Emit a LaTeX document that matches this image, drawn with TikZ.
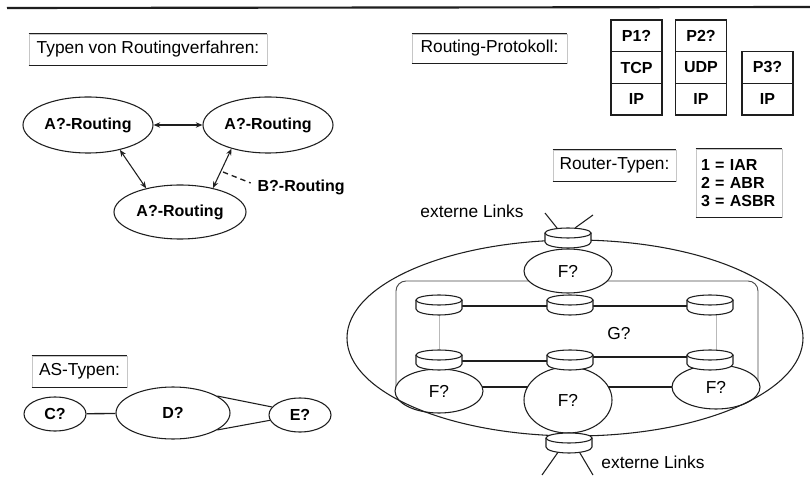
\documentclass[tikz,border=0pt]{standalone}
\usepackage{fontspec}
\setmainfont{Liberation Sans}
\usetikzlibrary{shapes.geometric,arrows.meta,calc}
\pgfdeclarelayer{paper}
\pgfdeclarelayer{under}
\pgfsetlayers{paper,under,main}
\newcommand\lblfont{\fontsize{12}{14}\selectfont\bfseries}
\newcommand\ttlfont{\fontsize{13}{15}\selectfont}
\definecolor{inkc}{HTML}{1E1E1E}
\tikzset{
  conn/.style={draw=inkc, line width=0.8pt},
  oval/.style={ellipse, draw=inkc, line width=0.8pt, fill=white, inner sep=0pt, font=\lblfont},
  fnode/.style={ellipse, draw=inkc, line width=0.8pt, fill=white, inner sep=0pt, font=\ttlfont},
  disc/.style={ellipse, draw=inkc, line width=0.8pt, fill=white, inner sep=0pt, minimum width=34.5pt, minimum height=7.5pt},
  titlebox/.style={draw=gray!45, line width=0.5pt, inner sep=0pt, font=\ttlfont},
  cell/.style={draw=inkc, line width=0.8pt, minimum width=38.25pt, minimum height=23.75pt, inner sep=0pt, font=\lblfont},
  dbl/.style={conn, <->, >={Stealth[length=5pt,width=4pt]}},
  edgeline/.style={draw=inkc, line width=0.9pt},
  faint/.style={draw=gray!55, line width=0.4pt},
  router/.pic={
    \path[conn, fill=white] (-23,0) -- (-23,9) arc[start angle=180, end angle=0, x radius=23, y radius=6] -- (23,0);
    \node[disc] (-top) at (0,0) {};
  }
}
\begin{document}
\begin{tikzpicture}[x=0.75pt,y=-0.75pt]
\begin{pgfonlayer}{paper}
  \fill[white] (0,0) rectangle (810,488);
\end{pgfonlayer}
\useasboundingbox (0,0) rectangle (810,488);
\draw[inkc, line width=1.6pt] (7,8) -- (810,7);

% title boxes
\node[titlebox, minimum width=178.5pt, minimum height=23.25pt] (t1) at (148,49.5) {Typen von Routingverfahren:};
\node[titlebox, minimum width=116.25pt, minimum height=21.75pt] (t2) at (489.5,48.5) {Routing-Protokoll:};
\node[titlebox, minimum width=92.25pt, minimum height=23.25pt] (t3) at (614.5,165.5) {Router-Typen:};
\node[titlebox, minimum width=71.25pt, minimum height=23.25pt] (t4) at (79.5,371.5) {AS-Typen:};
\node[titlebox, text width=57pt, inner xsep=3.75pt, minimum height=51pt, align=left, font={\lblfont\fontsize{12}{13.2}\selectfont}] (leg) at (739,183) {1 = IAR\\2 = ABR\\3 = ASBR};
\foreach \n in {t1,t2,t3,t4,leg}
  \draw[edgeline] (\n.north west) -- (\n.north east) (\n.south west) -- (\n.south east);

% protocol stacks
\node[cell] (p1) at (636.5,35.83) {P1?};
\node[cell] (tcp) at (636.5,67.5) {TCP};
\node[cell] (ip1) at (636.5,99.17) {IP};
\node[cell] (p2) at (701,35.83) {P2?};
\node[cell] (udp) at (701,67.5) {UDP};
\node[cell] (ip2) at (701,99.17) {IP};
\node[cell] (p3) at (767.5,67.5) {P3?};
\node[cell] (ip3) at (767.5,99.17) {IP};

% routing types
\node[oval, minimum width=97.5pt, minimum height=42pt] (a1) at (88,125) {A?-Routing};
\node[oval, minimum width=97.5pt, minimum height=42pt] (a2) at (268,125) {A?-Routing};
\node[oval, minimum width=99pt, minimum height=40.5pt] (a3) at (180,212) {A?-Routing};
\draw[dbl] (a1) -- (a2);
\draw[dbl] (a1.-38) -- (a3.145);
\draw[dbl] (a2.213) -- (a3.36);
\coordinate (bd) at (223,172);
\node[font=\lblfont, inner sep=1pt, anchor=west] (b) at (256,187) {B?-Routing};
\draw[conn, line width=1pt, dash pattern=on 4pt off 3pt] (bd) -- ([xshift=-4pt,yshift=3pt]b.west);

% AS types
\node[oval, minimum width=46.5pt, minimum height=25.5pt] (c) at (55,414) {C?};
\node[oval, minimum width=85.5pt, minimum height=39pt] (d) at (173,413) {D?};
\node[oval, minimum width=46.5pt, minimum height=25.5pt] (e) at (300,415) {E?};
\draw[conn, line width=1pt] (c) -- (d);
\draw[conn] (d.21) -- (e.164);
\draw[conn] (d.-21) -- (e.-170);

% area structure
\node[fnode, minimum width=66pt, minimum height=33pt] (ft) at (568,271) {F?};
\node[fnode, minimum width=66pt, minimum height=33pt] (fl) at (439,391) {F?};
\node[fnode, minimum width=66pt, minimum height=49.5pt] (fm) at (568,400) {F?};
\node[fnode, minimum width=66pt, minimum height=33pt] (fr) at (716,387) {F?};
\node[ellipse, draw=inkc, line width=0.8pt, minimum width=342pt, minimum height=147pt] (area) at (575,338) {};
\pic (rt) at (568,233) {router};
\pic (r1) at (439,300) {router};
\pic (r2) at (570,300) {router};
\pic (r3) at (710,300) {router};
\pic (r4) at (439,355) {router};
\pic (r5) at (570,355) {router};
\pic (r6) at (710,355) {router};
\pic (rb) at (569,438) {router};
\node[font=\ttlfont] (g) at (619,334) {G?};
\node[font=\ttlfont] (x1) at (472,211) {externe Links};
\node[font=\ttlfont] (x2) at (653,462) {externe Links};
\coordinate (at1) at (545,213);
\coordinate (at2) at (593,215);
\coordinate (ab1) at (542,475);
\coordinate (ab2) at (593,475);

\begin{pgfonlayer}{under}
  \draw[draw=inkc!80, line width=0.7pt, rounded corners=7.5pt] (396,391) -- (396,281) -- (758,281) -- (758,387);
  \draw[conn] ($(r1-top)+(0,6)$) -- ($(r2-top)+(0,6)$) -- ($(r3-top)+(0,6)$);
  \draw[conn] ($(r4-top)+(0,6)$) -- ($(r5-top)+(0,6)$);
  \draw[conn] ($(r5-top)+(0,2)$) -- ($(r6-top)+(0,2)$);
  \draw[faint] (r1-top) -- (r4-top);
  \draw[faint] ($(r3-top)+(6,0)$) -- ($(r6-top)+(6,0)$);
  \draw[conn] ([yshift=3pt]fl.center) -- ([yshift=3pt]fl.center -| fm.center);
  \draw[conn] (fm.center |- fr.center) -- (fr.center);
  \draw[conn] (at1) -- ($(rt-top)+(-7,0)$);
  \draw[conn] (at2) -- (rt-top);
  \draw[conn] ($(rb-top)+(-8,10)$) -- (ab1);
  \draw[conn] ($(rb-top)+(8,10)$) -- (ab2);
\end{pgfonlayer}
\end{tikzpicture}
\end{document}
